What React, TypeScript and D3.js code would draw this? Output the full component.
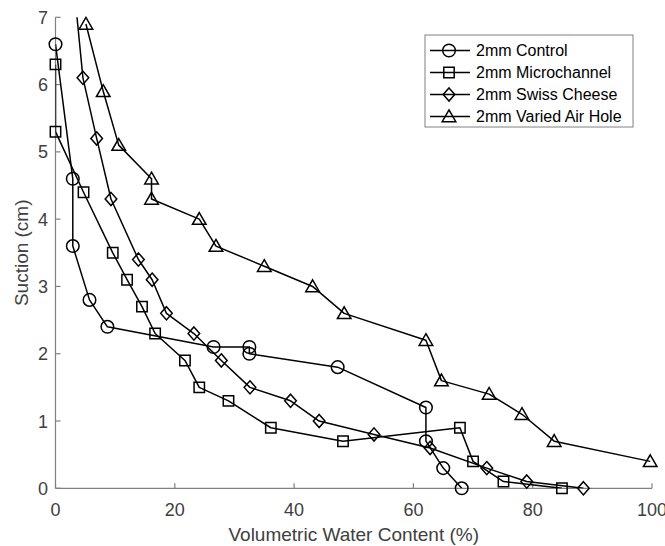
import React from "react";
import * as d3 from "d3";

// Volumetric water content (%) and suction (cm) for each sample
const controlX = [0, 2.9, 2.9, 5.7, 8.7, 26.5, 32.5, 32.5, 47.3, 62.1, 62.1, 65.0, 68.1];
const controlY = [6.6, 4.6, 3.6, 2.8, 2.4, 2.1, 2.1, 2.0, 1.8, 1.2, 0.7, 0.3, 0];

const microX = [0, 0, 4.7, 9.6, 12.0, 14.5, 16.7, 21.7, 24.1, 29.0, 36.1, 48.2, 67.8, 70.0, 75.1, 84.9];
const microY = [6.3, 5.3, 4.4, 3.5, 3.1, 2.7, 2.3, 1.9, 1.5, 1.3, 0.9, 0.7, 0.9, 0.4, 0.1, 0];

const swissX = [2.5, 4.6, 6.9, 9.3, 13.9, 16.2, 18.6, 23.2, 27.8, 32.6, 39.4, 44.2, 53.4, 62.8, 72.3, 79.0, 88.5];
const swissY = [8.0, 6.1, 5.2, 4.3, 3.4, 3.1, 2.6, 2.3, 1.9, 1.5, 1.3, 1.0, 0.8, 0.6, 0.3, 0.1, 0];

const airX = [5.1, 8.0, 10.6, 16.1, 16.1, 24.1, 26.9, 35.0, 43.1, 48.4, 62.1, 64.7, 72.7, 78.2, 83.6, 99.7];
const airY = [6.9, 5.9, 5.1, 4.6, 4.3, 4.0, 3.6, 3.3, 3.0, 2.6, 2.2, 1.6, 1.4, 1.1, 0.7, 0.4];

const seriesNames = ["2mm Control", "2mm Microchannel", "2mm Swiss Cheese", "2mm Varied Air Hole"];
const seriesMarkers = ["circle", "square", "diamond", "triangle"];

const xTicks = [0, 20, 40, 60, 80, 100];
const yTicks = [0, 1, 2, 3, 4, 5, 6, 7];

const W = 665;
const H = 546;
const left = 55.5;
const right = 652;
const top = 17.3;
const bottom = 488.3;

const x = d3.scaleLinear().domain([0, 100]).range([left, right]);
const y = d3.scaleLinear().domain([0, 7]).range([bottom, top]);

const AXIS = "#808080";
const TEXT = "#404040";
const FONT = "Liberation Sans, Arial, Helvetica, sans-serif";

function markerPath(kind: string, cx: number, cy: number): string {
  switch (kind) {
    case "circle": {
      const r = 6.3;
      return `M${cx + r},${cy}A${r},${r} 0 1,1 ${cx - r},${cy}A${r},${r} 0 1,1 ${cx + r},${cy}Z`;
    }
    case "square": {
      const h = 5.2;
      return `M${cx - h},${cy - h}H${cx + h}V${cy + h}H${cx - h}Z`;
    }
    case "diamond": {
      const hw = 5.8;
      const hh = 6.6;
      return `M${cx},${cy - hh}L${cx + hw},${cy}L${cx},${cy + hh}L${cx - hw},${cy}Z`;
    }
    default: {
      const hw = 6.8;
      return `M${cx},${cy - 6.6}L${cx + hw},${cy + 5.2}L${cx - hw},${cy + 5.2}Z`;
    }
  }
}

export default function App() {
  const series = [
    { xs: controlX, ys: controlY },
    { xs: microX, ys: microY },
    { xs: swissX, ys: swissY },
    { xs: airX, ys: airY },
  ];
  const line = d3
    .line<[number, number]>()
    .x((d) => x(d[0]))
    .y((d) => y(d[1]));

  const legendRows = seriesNames.map((n, i) => ({ n, m: seriesMarkers[i], cy: 50.5 + i * 22 }));

  return (
    <svg width={W} height={H} style={{ position: "absolute", left: 0, top: 0, background: "#fff" }} fontFamily={FONT}>
      <defs>
        <clipPath id="plot-area">
          <rect x={left} y={top} width={right - left} height={bottom - top} />
        </clipPath>
      </defs>
      <rect x={0} y={0} width={W} height={H} fill="#fff" />

      {/* axes */}
      <g stroke={AXIS} strokeWidth={1.2} fill="none">
        <line x1={left} y1={bottom} x2={right} y2={bottom} />
        <line x1={left} y1={bottom} x2={left} y2={top} />
        {xTicks.map((t) => (
          <line key={"xt" + t} x1={x(t)} x2={x(t)} y1={bottom} y2={bottom - 5} />
        ))}
        {yTicks.map((t) => (
          <line key={"yt" + t} x1={left} x2={left + 5} y1={y(t)} y2={y(t)} />
        ))}
      </g>
      <g fill={TEXT} fontSize={18}>
        {xTicks.map((t) => (
          <text key={"xl" + t} x={x(t)} y={516} textAnchor="middle">
            {t}
          </text>
        ))}
        {yTicks.map((t) => (
          <text key={"yl" + t} x={48} y={y(t) + 6.5} textAnchor="end">
            {t}
          </text>
        ))}
      </g>
      <text x={(left + right) / 2} y={541} textAnchor="middle" fontSize={19} fill={TEXT}>
        Volumetric Water Content (%)
      </text>
      <text
        transform={`translate(28,${(top + bottom) / 2}) rotate(-90)`}
        textAnchor="middle"
        fontSize={19}
        fill={TEXT}
      >
        Suction (cm)
      </text>

      {/* data lines */}
      <g clipPath="url(#plot-area)" fill="none" stroke="#000" strokeWidth={1.5} strokeLinejoin="round">
        {series.map((s, i) => (
          <path key={"ln" + i} d={line(s.xs.map((v, j) => [v, s.ys[j]] as [number, number])) || ""} />
        ))}
      </g>
      {/* markers */}
      <g fill="none" stroke="#000" strokeWidth={1.5}>
        {series.map((s, i) =>
          s.xs.map((v, j) =>
            s.ys[j] <= 7 ? (
              <path key={"mk" + i + "-" + j} d={markerPath(seriesMarkers[i], x(v), y(s.ys[j]))} />
            ) : null
          )
        )}
      </g>

      {/* legend */}
      <rect x={425} y={35} width={208} height={92} fill="#fff" stroke={AXIS} strokeWidth={1} />
      {legendRows.map((r) => (
        <g key={r.n}>
          <line x1={430} x2={470} y1={r.cy} y2={r.cy} stroke="#000" strokeWidth={1.5} />
          <path d={markerPath(r.m, 449, r.cy)} fill="none" stroke="#000" strokeWidth={1.5} />
          <text x={476} y={r.cy + 5.8} fontSize={16} fill="#000">
            {r.n}
          </text>
        </g>
      ))}
    </svg>
  );
}
